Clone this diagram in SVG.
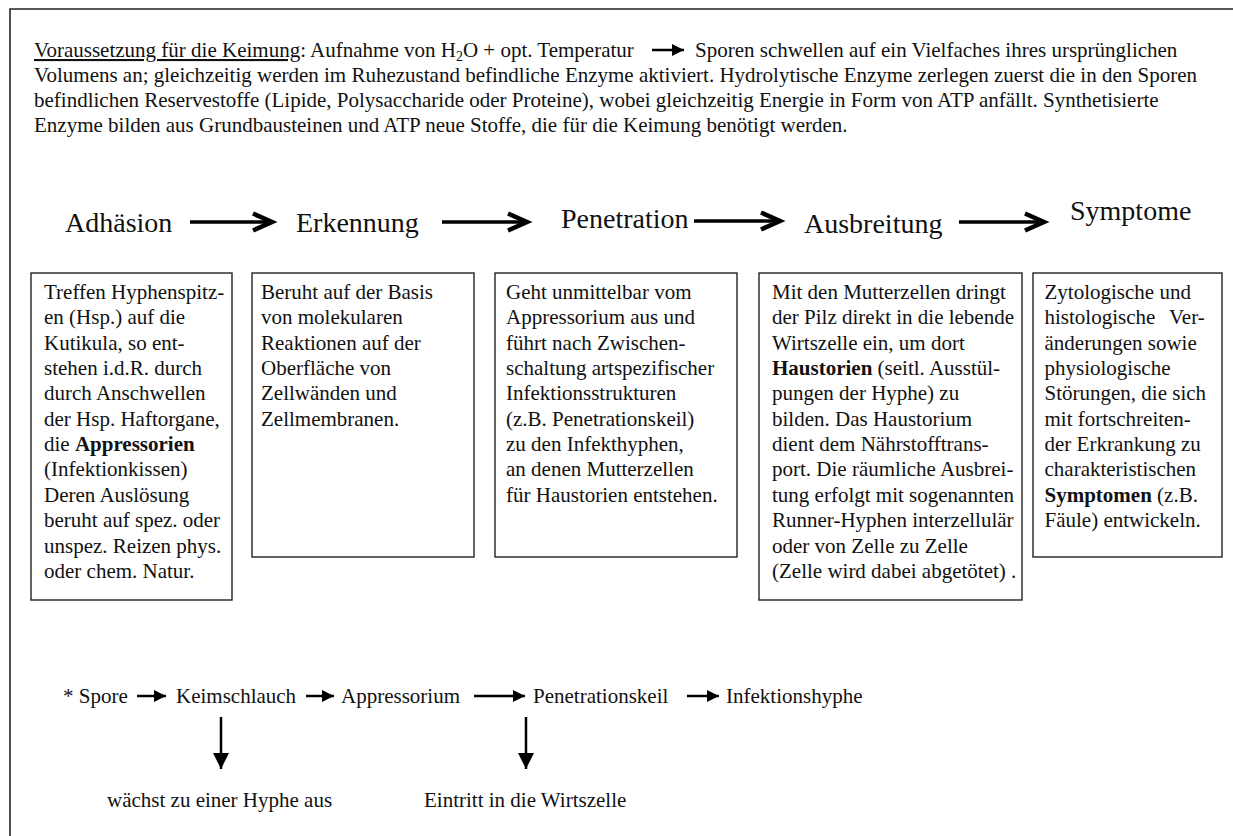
<svg xmlns="http://www.w3.org/2000/svg" width="1233" height="836" viewBox="0 0 1233 836">
<style>
text{font-family:"Liberation Serif","Times New Roman",serif;fill:#111;}
.p{font-size:21px;}
.h{font-size:28px;}
.b{font-weight:bold;}
.box{fill:#fff;stroke:#222;stroke-width:1.4;}
.shaft{stroke:#000;stroke-width:3.5;fill:none;}
.chev{stroke:#000;stroke-width:4.5;fill:none;stroke-linejoin:miter;}
.thin{stroke:#000;stroke-width:2.5;fill:none;}
.frame{stroke:#222;stroke-width:1.6;fill:none;}
</style>
<defs>
<marker id="tri" viewBox="0 0 10 10" refX="10" refY="5" markerWidth="5" markerHeight="5" markerUnits="strokeWidth" orient="auto">
<path d="M0,0 L10,5 L0,10 z" fill="#000"/>
</marker>
<marker id="triBig" viewBox="0 0 10 10" refX="10" refY="5" markerWidth="6.5" markerHeight="6.5" markerUnits="strokeWidth" orient="auto">
<path d="M0,0 L10,5 L0,10 z" fill="#000"/>
</marker>
</defs>
<rect width="1233" height="836" fill="#fff"/>
<path class="frame" d="M10,836 V9 H1233"/>

<g id="intro">
<text class="p" y="57"><tspan x="34" text-decoration="underline">Voraussetzung für die Keimung</tspan>: Aufnahme von H<tspan font-size="14" dy="4">2</tspan><tspan dy="-4">O + opt. Temperatur</tspan></text>
<text class="p" x="695" y="57">Sporen schwellen auf ein Vielfaches ihres ursprünglichen</text>
<text class="p" x="34" y="82">Volumens an; gleichzeitig werden im Ruhezustand befindliche Enzyme aktiviert. Hydrolytische Enzyme zerlegen zuerst die in den Sporen</text>
<text class="p" x="34" y="107">befindlichen Reservestoffe (Lipide, Polysaccharide oder Proteine), wobei gleichzeitig Energie in Form von ATP anfällt. Synthetisierte</text>
<text class="p" x="34" y="132">Enzyme bilden aus Grundbausteinen und ATP neue Stoffe, die für die Keimung benötigt werden.</text>
</g>

<g id="h-adhaesion"><text class="h" x="65" y="232">Adhäsion</text></g>
<g id="h-erkennung"><text class="h" x="296" y="232">Erkennung</text></g>
<g id="h-penetration"><text class="h" x="561" y="228">Penetration</text></g>
<g id="h-ausbreitung"><text class="h" x="804" y="233">Ausbreitung</text></g>
<g id="h-symptome"><text class="h" x="1070" y="220">Symptome</text></g>

<g id="box-adhaesion">
<rect class="box" x="31" y="273" width="201" height="327"/>
<text class="p" x="44" y="299">
<tspan x="44" dy="0">Treffen Hyphenspitz-</tspan>
<tspan x="44" dy="25.35">en (Hsp.) auf die</tspan>
<tspan x="44" dy="25.35">Kutikula, so ent-</tspan>
<tspan x="44" dy="25.35">stehen i.d.R. durch</tspan>
<tspan x="44" dy="25.35">durch Anschwellen</tspan>
<tspan x="44" dy="25.35">der Hsp. Haftorgane,</tspan>
<tspan x="44" dy="25.35">die <tspan class="b">Appressorien</tspan></tspan>
<tspan x="44" dy="25.35">(Infektionkissen)</tspan>
<tspan x="44" dy="25.35">Deren Auslösung</tspan>
<tspan x="44" dy="25.35">beruht auf spez. oder</tspan>
<tspan x="44" dy="25.35">unspez. Reizen phys.</tspan>
<tspan x="44" dy="25.35">oder chem. Natur.</tspan>
</text>
</g>

<g id="box-erkennung">
<rect class="box" x="252" y="273" width="222" height="284"/>
<text class="p" x="261" y="299">
<tspan x="261" dy="0">Beruht auf der Basis</tspan>
<tspan x="261" dy="25.35">von molekularen</tspan>
<tspan x="261" dy="25.35">Reaktionen auf der</tspan>
<tspan x="261" dy="25.35">Oberfläche von</tspan>
<tspan x="261" dy="25.35">Zellwänden und</tspan>
<tspan x="261" dy="25.35">Zellmembranen.</tspan>
</text>
</g>

<g id="box-penetration">
<rect class="box" x="495" y="273" width="242" height="284"/>
<text class="p" x="506" y="299">
<tspan x="506" dy="0">Geht unmittelbar vom</tspan>
<tspan x="506" dy="25.35">Appressorium aus und</tspan>
<tspan x="506" dy="25.35">führt nach Zwischen-</tspan>
<tspan x="506" dy="25.35">schaltung artspezifischer</tspan>
<tspan x="506" dy="25.35">Infektionsstrukturen</tspan>
<tspan x="506" dy="25.35">(z.B. Penetrationskeil)</tspan>
<tspan x="506" dy="25.35">zu den Infekthyphen,</tspan>
<tspan x="506" dy="25.35">an denen Mutterzellen</tspan>
<tspan x="506" dy="25.35">für Haustorien entstehen.</tspan>
</text>
</g>

<g id="box-ausbreitung">
<rect class="box" x="759" y="273" width="263" height="327"/>
<text class="p" x="772" y="299">
<tspan x="772" dy="0">Mit den Mutterzellen dringt</tspan>
<tspan x="772" dy="25.35">der Pilz direkt in die lebende</tspan>
<tspan x="772" dy="25.35">Wirtszelle ein, um dort</tspan>
<tspan x="772" dy="25.35"><tspan class="b">Haustorien</tspan> (seitl. Ausstül-</tspan>
<tspan x="772" dy="25.35">pungen der Hyphe) zu</tspan>
<tspan x="772" dy="25.35">bilden. Das Haustorium</tspan>
<tspan x="772" dy="25.35">dient dem Nährstofftrans-</tspan>
<tspan x="772" dy="25.35">port. Die räumliche Ausbrei-</tspan>
<tspan x="772" dy="25.35">tung erfolgt mit sogenannten</tspan>
<tspan x="772" dy="25.35">Runner-Hyphen interzellulär</tspan>
<tspan x="772" dy="25.35">oder von Zelle zu Zelle</tspan>
<tspan x="772" dy="25.35">(Zelle wird dabei abgetötet) .</tspan>
</text>
</g>

<g id="box-symptome">
<rect class="box" x="1033" y="273" width="189" height="284"/>
<text class="p" x="1044.5" y="299">
<tspan x="1044.5" dy="0">Zytologische und</tspan>
<tspan x="1044.5" dy="25.35">histologische</tspan><tspan x="1169">Ver-</tspan>
<tspan x="1044.5" dy="25.35">änderungen sowie</tspan>
<tspan x="1044.5" dy="25.35">physiologische</tspan>
<tspan x="1044.5" dy="25.35">Störungen, die sich</tspan>
<tspan x="1044.5" dy="25.35">mit fortschreiten-</tspan>
<tspan x="1044.5" dy="25.35">der Erkrankung zu</tspan>
<tspan x="1044.5" dy="25.35">charakteristischen</tspan>
<tspan x="1044.5" dy="25.35"><tspan class="b">Symptomen</tspan> (z.B.</tspan>
<tspan x="1044.5" dy="25.35">Fäule) entwickeln.</tspan>
</text>
</g>

<g id="n-spore"><text class="p" x="63" y="703">* Spore</text></g>
<g id="n-keimschlauch"><text class="p" x="176" y="703">Keimschlauch</text></g>
<g id="n-appressorium"><text class="p" x="341" y="703">Appressorium</text></g>
<g id="n-penetrationskeil"><text class="p" x="533" y="703">Penetrationskeil</text></g>
<g id="n-infektionshyphe"><text class="p" x="726" y="703">Infektionshyphe</text></g>
<g id="n-hyphe"><text class="p" x="107" y="807">wächst zu einer Hyphe aus</text></g>
<g id="n-wirtszelle"><text class="p" x="424" y="807">Eintritt in die Wirtszelle</text></g>

<g id="connectors">
<line class="thin" x1="652" y1="50" x2="684" y2="50" marker-end="url(#tri)"/>
<line class="shaft" x1="190" y1="222" x2="270" y2="222"/>
<polyline class="chev" points="253,213.5 272,222 253,230.5"/>
<line class="shaft" x1="442" y1="222" x2="525" y2="222"/>
<polyline class="chev" points="508,213.5 527,222 508,230.5"/>
<line class="shaft" x1="694" y1="221" x2="777" y2="221"/>
<polyline class="chev" points="761,212.5 780,221 761,229.5"/>
<line class="shaft" x1="959" y1="222" x2="1042" y2="222"/>
<polyline class="chev" points="1025,213.5 1044,222 1025,230.5"/>
<line class="thin" x1="137" y1="696" x2="166" y2="696" marker-end="url(#tri)"/>
<line class="thin" x1="306" y1="696" x2="334" y2="696" marker-end="url(#tri)"/>
<line class="thin" x1="474" y1="696" x2="525" y2="696" marker-end="url(#tri)"/>
<line class="thin" x1="687" y1="696" x2="719" y2="696" marker-end="url(#tri)"/>
<line class="thin" x1="221" y1="717" x2="221" y2="769" marker-end="url(#triBig)"/>
<line class="thin" x1="526" y1="717" x2="526" y2="769" marker-end="url(#triBig)"/>
</g>
</svg>
